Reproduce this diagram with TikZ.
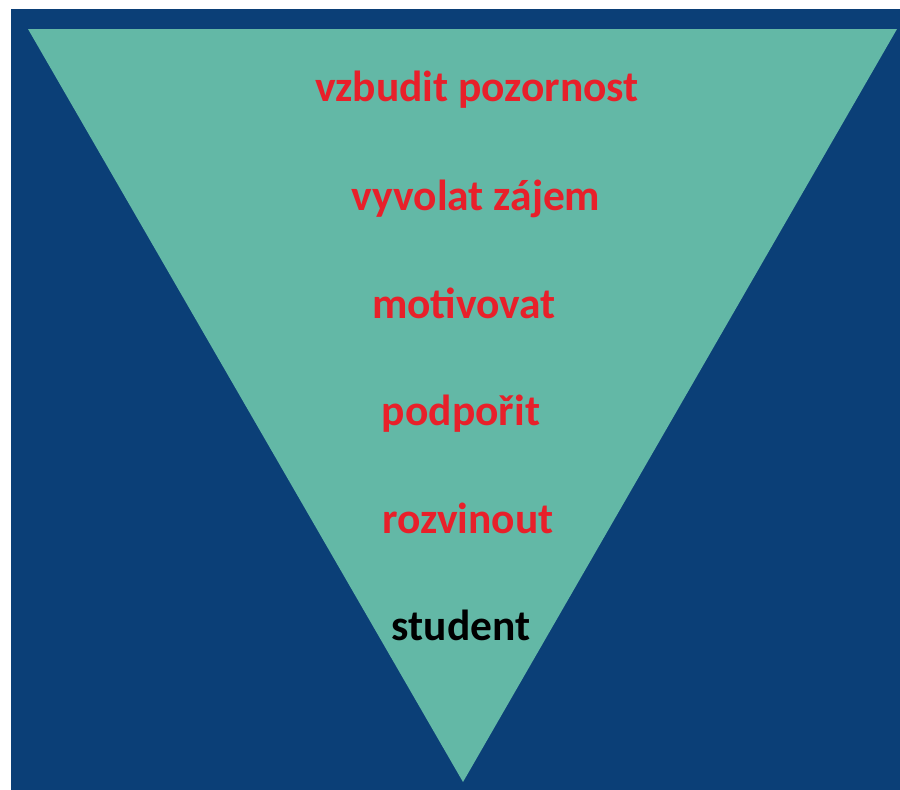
\documentclass[tikz,border=0pt]{standalone}
\usepackage{fontspec}
\setmainfont{Carlito}
\definecolor{bgblue}{HTML}{0B3F77}
\definecolor{funnel}{HTML}{63B8A6}
\definecolor{txtred}{HTML}{E8202A}
\tikzset{lbl/.style={anchor=base,font=\bfseries\fontsize{43.5}{46}\selectfont,text=txtred,inner sep=0pt}}
\begin{document}
\begin{tikzpicture}[x=1pt,y=-1pt]
\useasboundingbox (0,0) rectangle (900,790);
\fill[bgblue] (11,9) rectangle (900,790);
\fill[funnel] (28,29) -- (897,29) -- (463,782) -- cycle;
\node[lbl] (l1) at (477,101) {vzbudit pozornost};
\node[lbl] (l2) at (476,210) {vyvolat zájem};
\node[lbl] (l3) at (464,318) {motivovat};
\node[lbl] (l4) at (461,425) {podpořit};
\node[lbl] (l5) at (468,533) {rozvinout};
\node[lbl,text=black] (l6) at (461,640) {student};
\end{tikzpicture}
\end{document}
